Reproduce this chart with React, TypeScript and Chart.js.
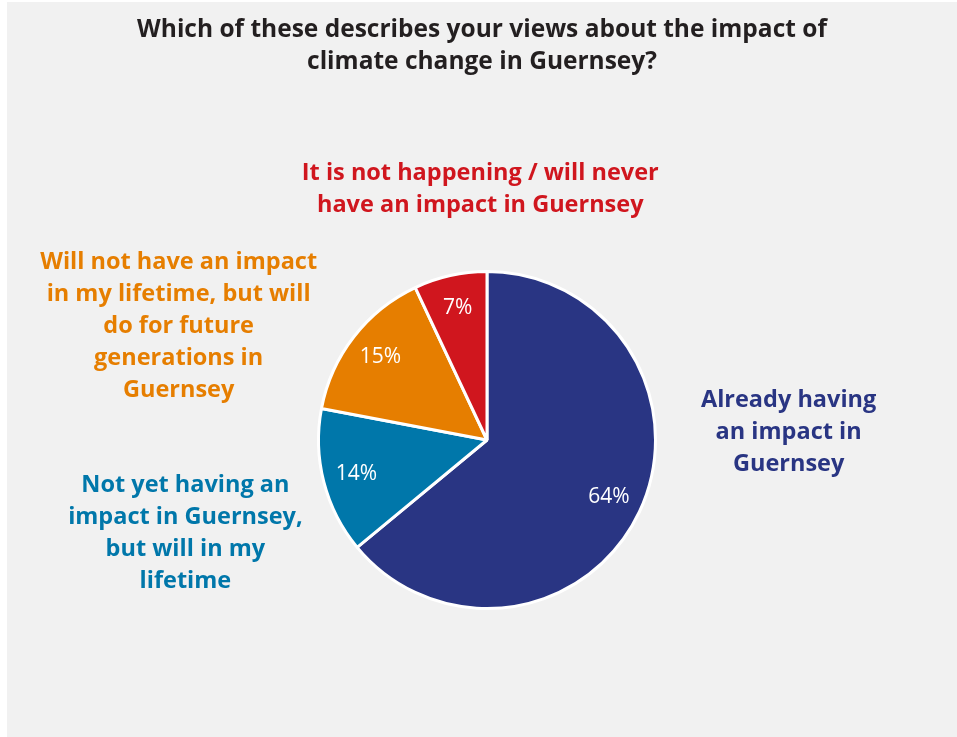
import React, { useEffect, useRef } from "react";
import { Chart, registerables } from "chart.js";

Chart.register(...registerables);

const titleLines = [
  "Which of these describes your views about the impact of",
  "climate change in Guernsey?",
];
const categories = [
  "Already having an impact in Guernsey",
  "Not yet having an impact in Guernsey, but will in my lifetime",
  "Will not have an impact in my lifetime, but will do for future generations in Guernsey",
  "It is not happening / will never have an impact in Guernsey",
];
const values = [64, 14, 15, 7];
const colors = ["#293583", "#0077aa", "#e67e00", "#d0161e"];
const labelLines = [
  ["Already having", "an impact in", "Guernsey"],
  ["Not yet having an", "impact in Guernsey,", "but will in my", "lifetime"],
  ["Will not have an impact", "in my lifetime, but will", "do for future", "generations in", "Guernsey"],
  ["It is not happening / will never", "have an impact in Guernsey"],
];
// label block centre offsets relative to pie centre, in units of radius
const labelAnchors = [
  { dx: 1.79, dy: -0.048 },
  { dx: -1.79, dy: 0.554 },
  { dx: -1.83, dy: -0.673 },
  { dx: -0.04, dy: -1.485 },
];

const FONT = "'Open Sans', 'Noto Sans', sans-serif";

const labelsPlugin = {
  id: "customLabels",
  afterDraw(chart: any) {
    const ctx = chart.ctx;
    const meta = chart.getDatasetMeta(0);
    const arc0 = meta.data[0];
    const cx = arc0.x;
    const cy = arc0.y;
    const R = arc0.outerRadius;
    ctx.save();
    // title
    ctx.fillStyle = "#231f20";
    ctx.font = `bold 24.5px ${FONT}`;
    ctx.textAlign = "center";
    ctx.textBaseline = "middle";
    const tx = chart.width / 2;
    titleLines.forEach((t, i) => ctx.fillText(t, tx, 28 + i * 32));
    // percent labels
    ctx.font = `21px ${FONT}`;
    ctx.fillStyle = "#ffffff";
    meta.data.forEach((arc: any, i: number) => {
      const mid = (arc.startAngle + arc.endAngle) / 2;
      const r = arc.outerRadius * 0.8;
      ctx.fillText(values[i] + "%", cx + Math.cos(mid) * r, cy + Math.sin(mid) * r);
    });
    // category labels
    ctx.font = `bold 23.5px ${FONT}`;
    labelLines.forEach((lines, i) => {
      ctx.fillStyle = colors[i];
      const a = labelAnchors[i];
      const x = cx + a.dx * R;
      const y0 = cy + a.dy * R;
      const lh = 32;
      const start = y0 - ((lines.length - 1) * lh) / 2;
      lines.forEach((l, j) => ctx.fillText(l, x, start + j * lh));
    });
    ctx.restore();
  },
};

export default function App() {
  const ref = useRef<HTMLCanvasElement>(null);
  useEffect(() => {
    document.body.style.margin = "0";
    const chart = new Chart(ref.current!, {
      type: "pie",
      data: {
        labels: categories,
        datasets: [
          {
            data: values,
            backgroundColor: colors,
            borderColor: "#ffffff",
            borderWidth: 3,
          },
        ],
      },
      options: {
        animation: false,
        responsive: false,
        layout: { padding: { top: 268, bottom: 127, left: 310, right: 300 } },
        plugins: {
          legend: { display: false },
          tooltip: { enabled: false },
          title: { display: false },
        },
      },
      plugins: [labelsPlugin],
    });
    return () => chart.destroy();
  }, []);
  return (
    <div
      style={{
        position: "absolute",
        left: 7,
        top: 2,
        width: 950,
        height: 735,
        background: "#f1f1f1",
      }}
    >
      <canvas ref={ref} width={950} height={735} style={{ display: "block" }} />
    </div>
  );
}
